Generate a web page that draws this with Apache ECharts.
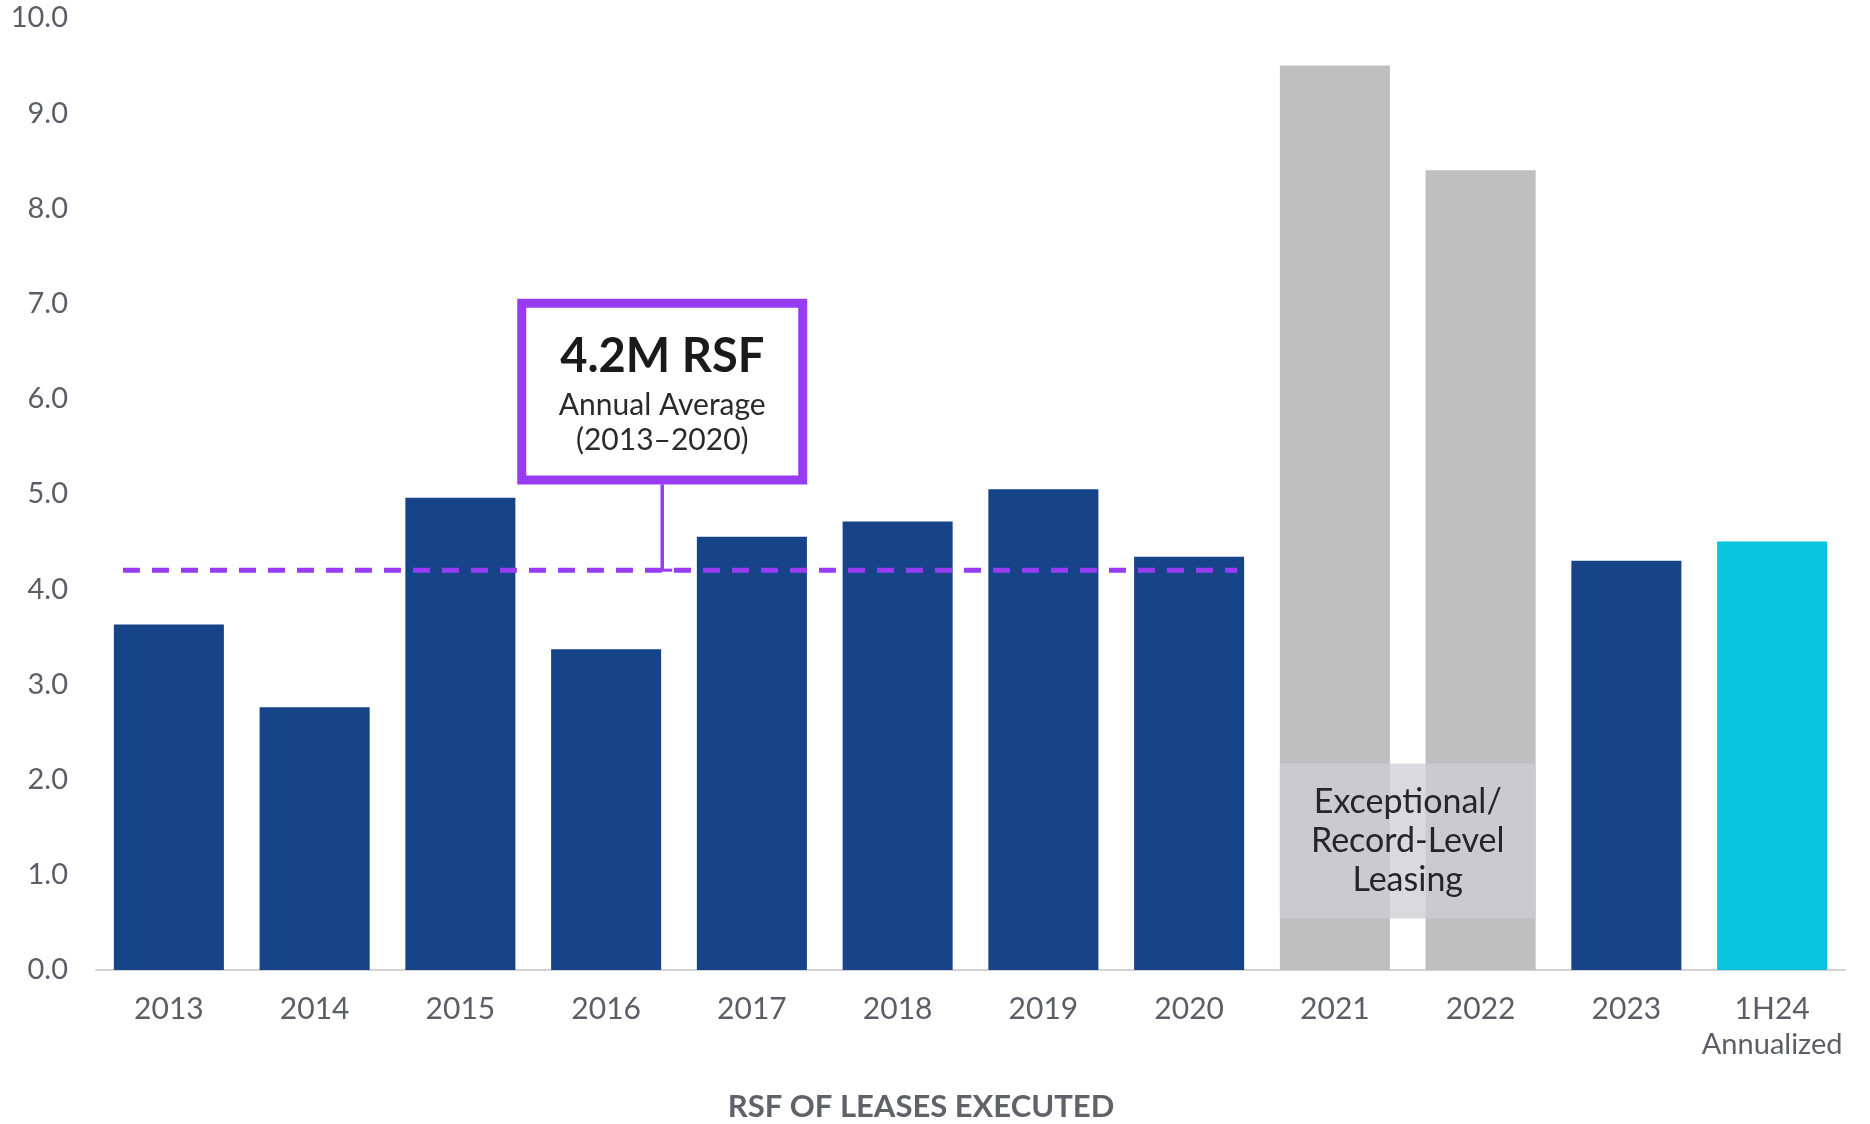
<!DOCTYPE html>
<html>
<head>
<meta charset="utf-8">
<title>RSF of Leases Executed</title>
<script src="https://cdn.jsdelivr.net/npm/echarts@6/dist/echarts.min.js"></script>
<style>
  html, body { margin: 0; padding: 0; background: #ffffff; }
  #chart { width: 1870px; height: 1124px; }
</style>
</head>
<body>
<div id="chart"></div>
<script>
// Leasing volume by year (millions of RSF)
const categories = ['2013', '2014', '2015', '2016', '2017', '2018', '2019', '2020', '2021', '2022', '2023', '1H24'];
const rsfValues = [3.63, 2.76, 4.96, 3.37, 4.55, 4.71, 5.05, 4.34, 9.50, 8.40, 4.30, 4.50];
const barKinds = ['base', 'base', 'base', 'base', 'base', 'base', 'base', 'base', 'record', 'record', 'base', 'ytd'];
const yTickValues = [0, 1, 2, 3, 4, 5, 6, 7, 8, 9, 10];

// 2013–2020 annual average
const averageValue = 4.2;
const averageFrom = '2013';
const averageTo = '2020';
const calloutLines = ['4.2M RSF', 'Annual Average', '(2013–2020)'];

// Record-level years note
const recordFrom = '2021';
const recordTo = '2022';
const recordNoteLines = ['Exceptional/', 'Record-Level', 'Leasing'];

const xAxisTitle = 'RSF OF LEASES EXECUTED';
const annualizedNote = 'Annualized';

const FONT = 'Lato, "Noto Sans", sans-serif';
const kindColors = { base: '#174488', record: '#bfbfbf', ytd: '#08c4de' };
const PURPLE = '#983cf3';
const LABEL_GRAY = '#5b5e66';

const chart = echarts.init(document.getElementById('chart'), null, { renderer: 'canvas' });

const option = {
  backgroundColor: '#ffffff',
  animation: false,
  grid: { left: 96, right: 25, top: 18, bottom: 154, containLabel: false, outerBoundsMode: 'none' },
  xAxis: {
    type: 'category',
    data: categories,
    axisTick: { show: false },
    axisLine: { show: true, lineStyle: { color: '#d3d3d6', width: 2 } },
    axisLabel: {
      interval: 0,
      margin: 22,
      color: LABEL_GRAY,
      fontFamily: FONT,
      fontSize: 30,
      lineHeight: 35,
      formatter: (v) => v === '1H24' ? '{main|' + v + '}\n{sub|' + annualizedNote + '}' : v,
      rich: {
        main: { fontFamily: FONT, fontSize: 30, color: LABEL_GRAY, lineHeight: 35 },
        sub: { fontFamily: FONT, fontSize: 29, color: LABEL_GRAY, lineHeight: 35 }
      }
    }
  },
  yAxis: {
    type: 'value',
    min: yTickValues[0],
    max: yTickValues[yTickValues.length - 1],
    interval: 1,
    splitLine: { show: false },
    axisLine: { show: false },
    axisTick: { show: false },
    axisLabel: {
      margin: 28,
      color: LABEL_GRAY,
      fontFamily: FONT,
      fontSize: 29,
      formatter: (v) => v.toFixed(1)
    }
  },
  series: [{
    type: 'bar',
    barCategoryGap: '24.5%',
    data: rsfValues.map((v, i) => ({ value: v, itemStyle: { color: kindColors[barKinds[i]] } })),
    z: 2
  }]
};

chart.setOption(option);

// Annotations positioned through the axes' own scales
function px(cat, val) { return chart.convertToPixel({ seriesIndex: 0 }, [cat, val]); }
const band = px(categories[1], 0)[0] - px(categories[0], 0)[0];
const halfBar = band * (1 - 0.245) / 2;

const avgStart = px(averageFrom, averageValue);
const avgEnd = px(averageTo, averageValue);
const avgY = avgStart[1];
const lineX0 = avgStart[0] - band * 0.315;
const lineX1 = avgEnd[0] + band * 0.33;

// callout box sits between 2016 and 2017, spanning 5.1–7.05 on the value axis
const calloutCx = px('2016', 0)[0] + band * 0.385;
const boxTop = px('2016', 7.05)[1];
const boxBottom = px('2016', 5.1)[1];
const boxW = 281;
const bw = 9;

// record note overlay covers both grey bars
const recL = px(recordFrom, 0)[0] - halfBar;
const recR = px(recordTo, 0)[0] + halfBar;
const recTop = px(recordFrom, 2.17)[1];
const recBottom = px(recordFrom, 0.54)[1];
const recCx = (recL + recR) / 2;
const recCy = (recTop + recBottom) / 2;

const baseY = px(categories[0], 0)[1];

chart.setOption({
  graphic: [
    {
      type: 'line',
      z: 10,
      shape: { x1: lineX0, y1: avgY, x2: lineX1, y2: avgY },
      style: { stroke: PURPLE, lineWidth: 5, lineDash: [17, 12] }
    },
    {
      type: 'line',
      z: 11,
      shape: { x1: calloutCx, y1: boxBottom, x2: calloutCx, y2: avgY },
      style: { stroke: PURPLE, lineWidth: 3.5 }
    },
    {
      type: 'line',
      z: 11,
      shape: { x1: calloutCx - 10, y1: avgY, x2: calloutCx + 10, y2: avgY },
      style: { stroke: PURPLE, lineWidth: 3 }
    },
    {
      type: 'rect',
      z: 12,
      shape: { x: calloutCx - boxW / 2, y: boxTop + bw / 2, width: boxW, height: boxBottom - boxTop - bw },
      style: { fill: '#ffffff', stroke: PURPLE, lineWidth: bw }
    },
    {
      type: 'text',
      z: 13,
      style: {
        text: calloutLines[0], x: calloutCx, y: boxTop + 58,
        align: 'center', verticalAlign: 'middle',
        font: 'bold 47px ' + FONT, fill: '#1a1a1a'
      }
    },
    {
      type: 'text',
      z: 13,
      style: {
        text: calloutLines[1], x: calloutCx, y: boxTop + 106,
        align: 'center', verticalAlign: 'middle',
        font: '30px ' + FONT, fill: '#2a2a2a'
      }
    },
    {
      type: 'text',
      z: 13,
      style: {
        text: calloutLines[2], x: calloutCx, y: boxTop + 141,
        align: 'center', verticalAlign: 'middle',
        font: '30px ' + FONT, fill: '#2a2a2a'
      }
    },
    {
      type: 'rect',
      z: 8,
      shape: { x: recL, y: recTop, width: recR - recL, height: recBottom - recTop },
      style: { fill: 'rgba(205,206,212,0.77)' }
    },
    {
      type: 'text',
      z: 9,
      style: {
        text: recordNoteLines.join('\n'), x: recCx, y: recCy,
        align: 'center', verticalAlign: 'middle',
        font: '34px ' + FONT, lineHeight: 39, fill: '#262629'
      }
    },
    {
      type: 'text',
      z: 5,
      style: {
        text: xAxisTitle, x: 921, y: baseY + 137,
        align: 'center', verticalAlign: 'middle',
        font: 'bold 31px ' + FONT, fill: '#60626a'
      }
    }
  ]
});
</script>
</body>
</html>
